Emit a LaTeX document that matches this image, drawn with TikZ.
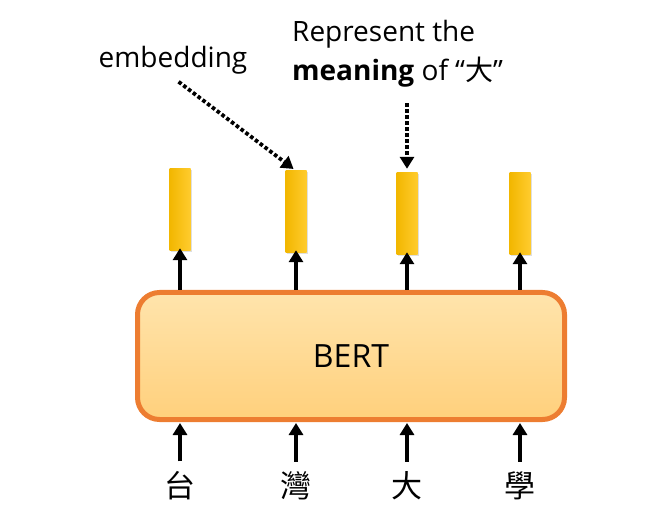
\documentclass[tikz,border=0pt]{standalone}
\usepackage{fontspec}
\setmainfont{Open Sans}
\newfontfamily\cjk{Noto Sans CJK TC}
\usepackage{xcolor}
\definecolor{colBorder}{HTML}{ED7D31}
\definecolor{colBoxTop}{HTML}{FFE4AC}
\definecolor{colBoxBot}{HTML}{FFD07C}
\definecolor{colGoldL}{HTML}{F2B700}
\definecolor{colGoldR}{HTML}{FFCB2E}
\usepackage{tikz}
\usetikzlibrary{arrows.meta, positioning, calc, shadows}
\tikzset{
    embbar/.style={
        minimum width=21pt, minimum height=82pt, inner sep=0pt,
        left color=colGoldL, right color=colGoldR, draw=none,
        drop shadow={opacity=0.25, shadow xshift=1.2pt, shadow yshift=-1.2pt}
    },
    uparrow/.style={-{Triangle[width=14pt,length=12pt]}, line width=3.8pt},
    dotarrow/.style={-{Triangle[width=14pt,length=12pt]}, line width=3.8pt,
        dash pattern=on 3.6pt off 2.4pt},
    tok/.style={font=\cjk\fontsize{31}{31}\selectfont, inner sep=0pt},
}

\begin{document}
\begin{tikzpicture}[x=1pt, y=-1pt]
    \useasboundingbox (0,0) rectangle (659,529);
    % BERT block
    \node[draw=colBorder, line width=5pt, rounded corners=22pt,
          top color=colBoxTop, bottom color=colBoxBot,
          minimum width=427pt, minimum height=127pt,
          font=\fontsize{32}{32}\selectfont] (bert) at (351,356) {BERT};
    % output embeddings
    \node[embbar] (e1) at (180,210) {};
    \node[embbar] (e2) at (296,212) {};
    \node[embbar] (e3) at (407,214) {};
    \node[embbar] (e4) at (520,214) {};
    % input tokens
    \node[tok] (c1) at (180,486) {台};
    \node[tok] (c2) at (296,486) {灣};
    \node[tok] (c3) at (407,486) {大};
    \node[tok] (c4) at (520,486) {學};
    \foreach \i in {1,...,4} {
        \draw[uparrow] (bert.north -| e\i) -- ([yshift=3pt]e\i.south);
        \draw[uparrow, shorten <=10pt, shorten >=1pt] (c\i.north) -- (c\i |- bert.south);
    }
    % labels
    \node[font=\fontsize{28}{28}\selectfont] (emb) at (173,60) {embedding};
    \node[font=\fontsize{28}{39}\selectfont, align=left, anchor=north west,
          inner sep=0pt] (rep) at (292,20)
          {Represent the\\\textbf{meaning} of “{\cjk 大}”};
    \draw[dotarrow, shorten <=7pt, shorten >=3pt] (emb.south) -- (e2.north);
    \draw[dotarrow, shorten <=16pt, shorten >=4pt] (e3 |- rep.south) -- (e3.north);
\end{tikzpicture}
\end{document}
